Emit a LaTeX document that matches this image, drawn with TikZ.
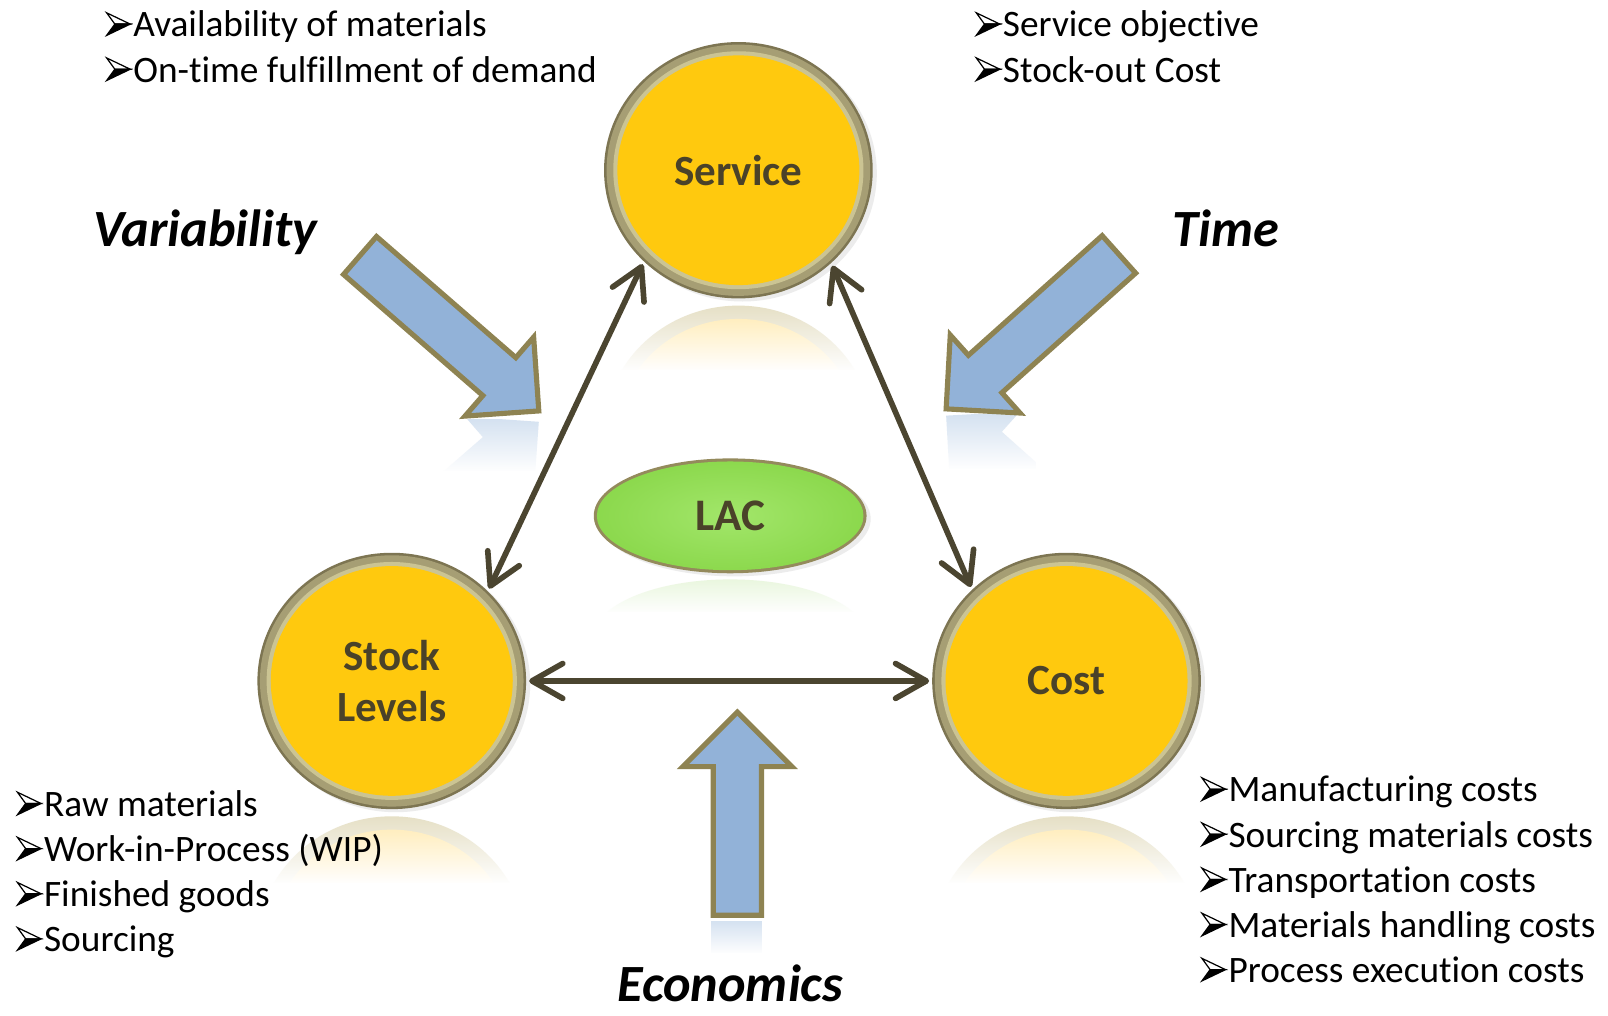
\documentclass[tikz,border=0pt]{standalone}
\usepackage{fontspec}
\setmainfont{Carlito}[RawFeature={-liga;-clig;-calt;-dlig}]
\usetikzlibrary{arrows.meta,shadows,shapes.geometric,fadings}
\tikzfading[name=fadein, top color=transparent!100, bottom color=transparent!0]
\definecolor{ringdark}{HTML}{7D7552}
\definecolor{ringmid}{HTML}{A69E74}
\definecolor{ringlight}{HTML}{CBC493}
\definecolor{gold}{HTML}{FFC90E}
\definecolor{labelc}{HTML}{4A4229}
\definecolor{conn}{HTML}{4B4530}
\definecolor{blockfill}{HTML}{92B2D8}
\definecolor{blockedge}{HTML}{8E8352}
\definecolor{lacin}{HTML}{A2E66A}
\definecolor{lacout}{HTML}{8BD84C}
\definecolor{lacring}{HTML}{948A5C}
\definecolor{reflring}{HTML}{E6E0C6}
\definecolor{reflgold}{HTML}{FFEAB0}
\definecolor{reflgreen}{HTML}{E8F6DC}
\definecolor{reflblue}{HTML}{D5E2F1}
\newcommand{\blockshape}[3]{(0,0) -- (-#3,#3) -- (-#3,#2) -- (-#1,#2) -- (-#1,-#2) -- (-#3,-#2) -- (-#3,-#3) -- cycle}
% 3D arrowhead bullet drawn as shapes; #1 = left x, #2 = baseline y
\newcommand{\bulletshape}[2]{%
  \filldraw[fill=white, draw=black, line width=1.2pt, line join=miter] (#1,#2-23.5) -- (#1+23,#2-12.5) -- (#1+8,#2-12.5) -- cycle;
  \filldraw[fill=black, draw=black, line width=1.2pt, line join=miter] (#1+8,#2-12.5) -- (#1+23,#2-12.5) -- (#1,#2-1.5) -- cycle;}
\newcommand{\bitem}[4]{\node[item] (#1) at (#2+26,#3) {#4};\bulletshape{#2}{#3}}
\begin{document}
\begin{tikzpicture}[x=1pt,y=-1pt,
  hub/.style={ellipse, minimum width=262pt, minimum height=250pt, inner sep=0pt, outer sep=0pt,
    fill=ringdark,
    drop shadow={shadow xshift=4pt, shadow yshift=-3pt, opacity=0.15},
    path picture={
      \fill[ringmid] (path picture bounding box.center) ellipse (128.5pt and 122.5pt);
      \fill[ringlight] (path picture bounding box.center) ellipse (122pt and 116pt);
      \fill[gold] (path picture bounding box.center) ellipse (118pt and 112pt);
    },
    text=labelc, font=\fontsize{42}{50}\selectfont\bfseries, align=center},
  lac/.style={ellipse, minimum width=266pt, minimum height=112pt, inner sep=0pt, outer sep=0pt,
    fill=lacring,
    drop shadow={shadow xshift=4pt, shadow yshift=-3pt, opacity=0.15},
    path picture={
      \shade[inner color=lacin, outer color=lacout] (path picture bounding box.center) ellipse (130pt and 53pt);
    },
    text=labelc, font=\fontsize{44}{50}\selectfont\bfseries},
  blockarrow/.style={fill=blockfill, draw=blockedge, line width=5pt, line join=miter},
  link/.style={draw=conn, line width=5.5pt,
    {Straight Barb[length=30pt,width=34pt,round]}-{Straight Barb[length=30pt,width=34pt,round]},
    shorten <=3pt, shorten >=3pt},
  item/.style={anchor=base west, inner sep=0pt, outer sep=0pt, font=\fontsize{36.4}{44}\selectfont},
  big/.style={anchor=base, inner sep=0pt, outer sep=0pt, font=\fontsize{51}{60}\selectfont\bfseries\itshape}
]
\useasboundingbox (0,0) rectangle (1568,990);
\fill[white] (0,0) rectangle (1568,990);

% ---------- reflections ----------
\begin{scope}
  \clip (585,298) rectangle (855,372);
  \fill[reflring] (720,423) ellipse (131pt and 125pt);
  \fill[reflgold] (720,423) ellipse (118pt and 112pt);
  \fill[white, path fading=fadein] (585,298) rectangle (855,362);
  \fill[white] (585,361) rectangle (855,373);
\end{scope}
\begin{scope}
  \clip (247,796) rectangle (517,872);
  \fill[reflring] (382,921) ellipse (131pt and 125pt);
  \fill[reflgold] (382,921) ellipse (118pt and 112pt);
  \fill[white, path fading=fadein] (247,796) rectangle (517,862);
  \fill[white] (247,861) rectangle (517,873);
\end{scope}
\begin{scope}
  \clip (904,796) rectangle (1174,872);
  \fill[reflring] (1040,921) ellipse (131pt and 125pt);
  \fill[reflgold] (1040,921) ellipse (118pt and 112pt);
  \fill[white, path fading=fadein] (904,796) rectangle (1174,862);
  \fill[white] (904,861) rectangle (1174,873);
\end{scope}
\begin{scope}
  \clip (578,562) rectangle (848,606);
  \fill[reflgreen] (712,621) ellipse (133pt and 56pt);
  \fill[white, path fading=fadein] (578,562) rectangle (848,598);
  \fill[white] (578,597) rectangle (848,607);
\end{scope}
\begin{scope}
  \clip (420,409) rectangle (535,468);
  \begin{scope}[shift={(0,812)}, yscale=-1]
    \begin{scope}[shift={(525.4,400.7)}, rotate=-41]
      \fill[reflblue] \blockshape{231}{24.5}{51};
    \end{scope}
  \end{scope}
  \fill[white, path fading=fadein] (420,409) rectangle (535,460);
  \fill[white] (420,459) rectangle (535,469);
\end{scope}
\begin{scope}
  \clip (912,404) rectangle (1010,466);
  \begin{scope}[shift={(0,804)}, yscale=-1]
    \begin{scope}[shift={(922.6,398.7)}, rotate=-138.2]
      \fill[reflblue] \blockshape{226}{24.5}{51};
    \end{scope}
  \end{scope}
  \fill[white, path fading=fadein] (912,404) rectangle (1010,458);
  \fill[white] (912,457) rectangle (1010,467);
\end{scope}
\begin{scope}
  \clip (680,898) rectangle (760,936);
  \fill[reflblue] (693,898) rectangle (743,936);
  \fill[white, path fading=fadein] (680,898) rectangle (760,930);
  \fill[white] (680,929) rectangle (760,937);
\end{scope}

% ---------- block arrows ----------
\begin{scope}[shift={(525.4,400.7)}, rotate=-41]
  \draw[blockarrow] \blockshape{231}{24.5}{51};
\end{scope}
\begin{scope}[shift={(922.6,398.7)}, rotate=-138.2]
  \draw[blockarrow] \blockshape{226}{24.5}{51};
\end{scope}
\begin{scope}[shift={(719,694.5)}, rotate=90]
  \draw[blockarrow] \blockshape{198}{23.5}{53};
\end{scope}

% ---------- hubs ----------
\node[hub] (service) at (720,166) {Service};
\node[hub] (stock) at (382,664) {Stock\\Levels};
\node[hub] (cost) at (1040,664) {Cost};
\node[lac] (lacn) at (712,503) {LAC};

% ---------- connectors ----------
\draw[link] (service.224) -- (stock.43);
\draw[link] (service.315) -- (cost.136);
\draw[link] (stock.0) -- (cost.180);

% ---------- labels ----------
\node[big] (var) at (200,240) {Variability};
\node[big] (time) at (1195,240) {Time};
\node[big] (econ) at (712,977) {Economics};

\bitem{a1}{104}{36}{Availability of materials}
\bitem{a2}{104}{80}{On-time fulfillment of demand}
\bitem{s1}{952}{36}{Service objective}
\bitem{s2}{952}{80}{Stock-out Cost}

\bitem{l1}{17}{796}{Raw materials}
\bitem{l2}{17}{840}{Work-in-Process (WIP)}
\bitem{l3}{17}{884}{Finished goods}
\bitem{l4}{17}{928}{Sourcing}

\bitem{r1}{1172}{782}{Manufacturing costs}
\bitem{r2}{1172}{826}{Sourcing materials costs}
\bitem{r3}{1172}{870}{Transportation costs}
\bitem{r4}{1172}{914}{Materials handling costs}
\bitem{r5}{1172}{958}{Process execution costs}
\end{tikzpicture}
\end{document}
